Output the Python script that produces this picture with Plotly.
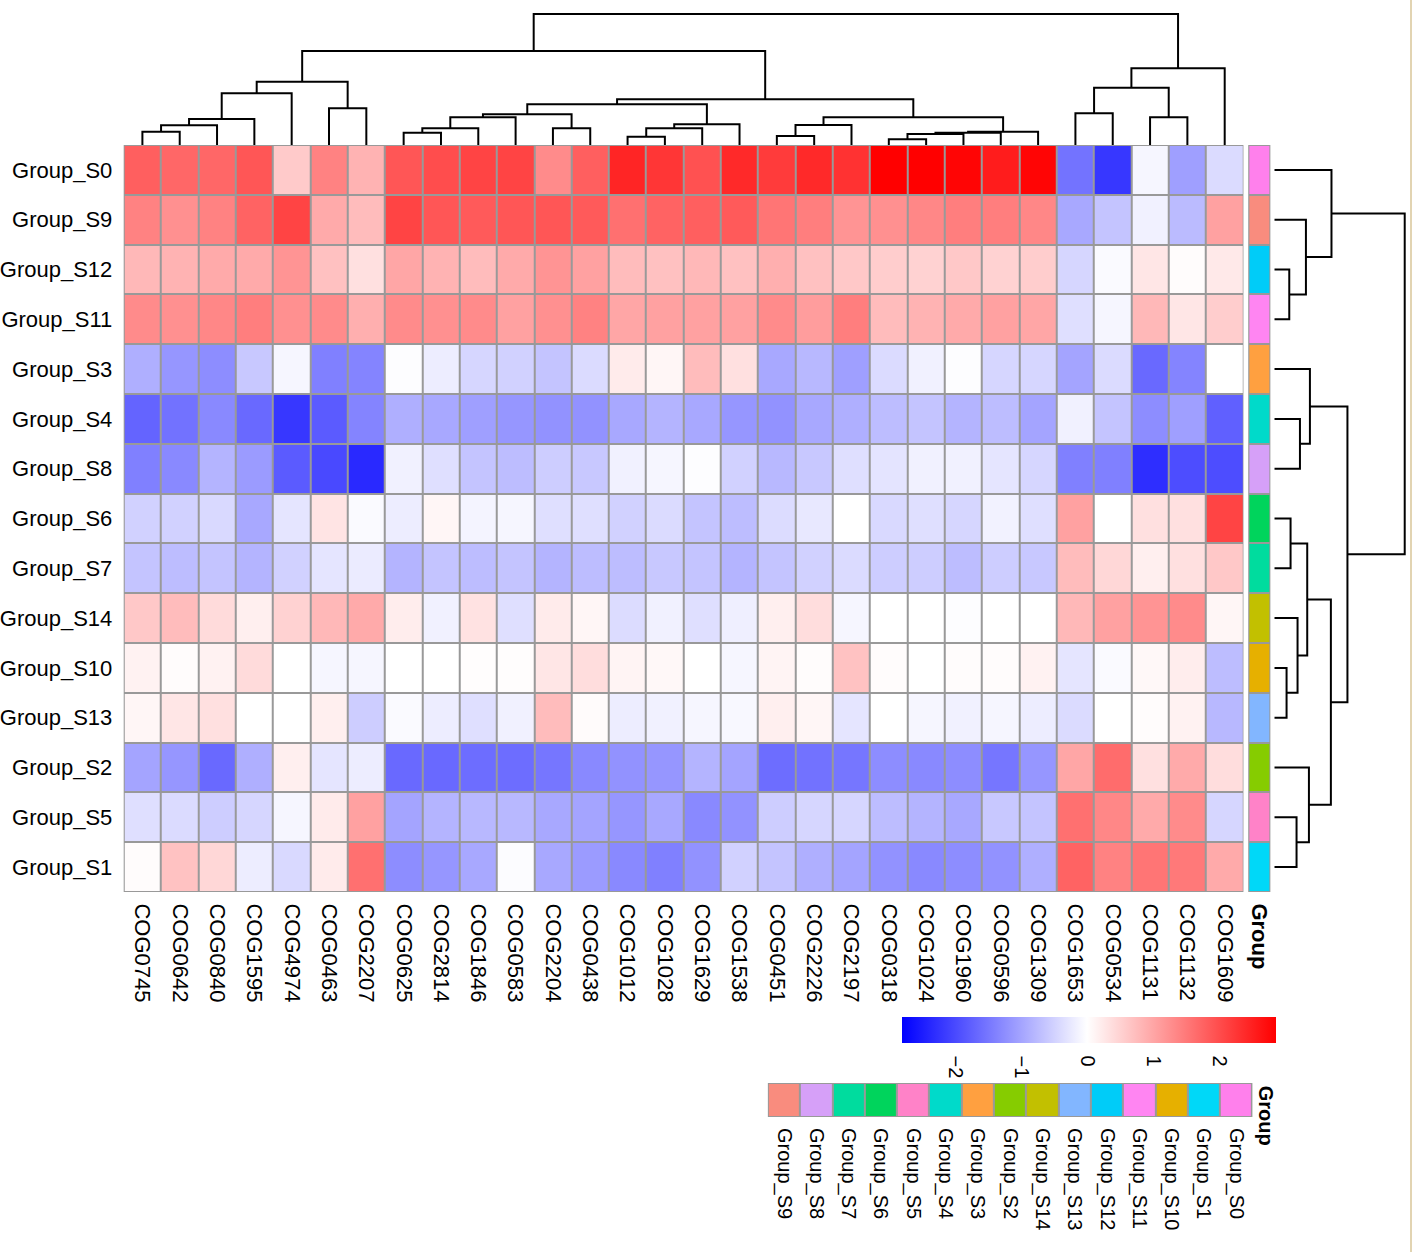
import plotly.graph_objects as go

W, H = 1417, 1252
FONT = "Liberation Sans, Arial, Helvetica, sans-serif"

# ---------------- data ----------------
cols = ["COG0745", "COG0642", "COG0840", "COG1595", "COG4974", "COG0463", "COG2207",
        "COG0625", "COG2814", "COG1846", "COG0583", "COG2204", "COG0438", "COG1012",
        "COG1028", "COG1629", "COG1538", "COG0451", "COG2226", "COG2197", "COG0318",
        "COG1024", "COG1960", "COG0596", "COG1309", "COG1653", "COG0534", "COG1131",
        "COG1132", "COG1609"]
rows = ["Group_S0", "Group_S9", "Group_S12", "Group_S11", "Group_S3", "Group_S4", "Group_S8",
        "Group_S6", "Group_S7", "Group_S14", "Group_S10", "Group_S13", "Group_S2", "Group_S5",
        "Group_S1"]

v_S0 = [1.8, 1.7, 1.7, 1.9, 0.6, 1.4, 0.85, 1.9, 2.0, 2.1, 2.1, 1.3, 1.8, 2.45, 2.25,
        1.95, 2.4, 2.2, 2.4, 2.3, 2.86, 2.86, 2.8, 2.55, 2.8, -1.54, -2.2, -0.1, -1.05, -0.4]
v_S9 = [1.4, 1.25, 1.4, 1.75, 2.1, 0.95, 0.75, 2.1, 1.9, 1.85, 1.9, 1.9, 1.85, 1.6, 1.75,
        1.8, 1.85, 1.55, 1.45, 1.2, 1.25, 1.35, 1.45, 1.45, 1.35, -0.95, -0.65, -0.15, -0.75, 1.05]
v_S12 = [0.8, 0.85, 0.95, 0.95, 1.2, 0.7, 0.35, 1.0, 0.85, 0.75, 0.95, 1.2, 1.05, 0.75, 0.7,
         0.8, 0.7, 0.9, 0.7, 0.62, 0.56, 0.5, 0.62, 0.5, 0.56, -0.45, -0.05, 0.28, 0.03, 0.25]
v_S11 = [1.3, 1.25, 1.35, 1.45, 1.25, 1.3, 0.9, 1.3, 1.25, 1.3, 1.05, 1.25, 1.4, 1.0, 1.05,
         1.05, 1.05, 1.3, 1.1, 1.45, 0.75, 0.85, 0.95, 1.05, 1.0, -0.35, -0.1, 0.8, 0.28, 0.56]
v_S3 = [-0.88, -1.15, -1.25, -0.6, -0.1, -1.4, -1.35, -0.02, -0.2, -0.45, -0.5, -0.65, -0.4, 0.22, 0.1,
        0.75, 0.35, -0.95, -0.78, -1.05, -0.4, -0.15, -0.02, -0.45, -0.45, -1.0, -0.4, -1.65, -1.35, 0.0]
v_S4 = [-1.7, -1.55, -1.3, -1.65, -2.2, -1.8, -1.35, -0.88, -0.95, -1.05, -1.15, -1.2, -1.2, -0.95, -0.82,
        -0.95, -1.15, -1.2, -0.95, -0.88, -0.72, -0.65, -0.82, -0.72, -1.0, -0.15, -0.65, -1.25, -1.05, -1.75]
v_S8 = [-1.4, -1.3, -0.82, -1.1, -1.8, -2.0, -2.35, -0.15, -0.35, -0.65, -0.72, -0.55, -0.6, -0.15, -0.1,
        -0.02, -0.5, -0.78, -0.6, -0.35, -0.3, -0.15, -0.15, -0.28, -0.45, -1.4, -1.4, -2.3, -1.95, -1.95]
v_S6 = [-0.5, -0.5, -0.42, -0.95, -0.28, 0.3, -0.05, -0.2, 0.1, -0.12, -0.1, -0.35, -0.35, -0.5, -0.4,
        -0.65, -0.72, -0.38, -0.25, 0.0, -0.42, -0.35, -0.45, -0.14, -0.35, 1.05, 0.0, 0.35, 0.35, 2.1]
v_S7 = [-0.65, -0.72, -0.65, -0.82, -0.5, -0.28, -0.22, -0.82, -0.65, -0.72, -0.65, -0.82, -0.72, -0.72, -0.6,
        -0.65, -0.82, -0.65, -0.5, -0.4, -0.55, -0.55, -0.72, -0.55, -0.6, 0.75, 0.45, 0.18, 0.35, 0.62]
v_S14 = [0.62, 0.75, 0.4, 0.18, 0.5, 0.8, 0.95, 0.2, -0.15, 0.32, -0.35, 0.22, 0.1, -0.38, -0.15,
         -0.35, -0.18, 0.18, 0.38, -0.1, 0.0, 0.0, -0.02, 0.0, 0.0, 0.8, 1.05, 1.2, 1.3, 0.1]
v_S10 = [0.15, 0.03, 0.15, 0.4, 0.0, -0.1, -0.1, 0.0, 0.0, 0.02, 0.02, 0.28, 0.38, 0.12, 0.08,
         0.0, -0.1, 0.12, 0.03, 0.68, 0.03, 0.0, 0.03, 0.03, 0.15, -0.28, -0.05, 0.08, 0.2, -0.72]
v_S13 = [0.1, 0.28, 0.35, 0.0, 0.0, 0.18, -0.55, -0.05, -0.2, -0.35, -0.15, 0.75, 0.05, -0.2, -0.15,
         -0.1, -0.08, 0.18, 0.1, -0.28, 0.0, -0.1, -0.15, -0.1, -0.2, -0.4, 0.0, 0.03, 0.15, -0.78]
v_S2 = [-1.0, -1.15, -1.65, -0.88, 0.18, -0.28, -0.2, -1.65, -1.65, -1.6, -1.6, -1.5, -1.3, -1.2, -1.15,
        -0.82, -1.0, -1.6, -1.55, -1.5, -1.25, -1.3, -1.25, -1.5, -1.15, 1.0, 1.65, 0.35, 0.95, 0.38]
v_S5 = [-0.35, -0.4, -0.55, -0.45, -0.1, 0.22, 1.05, -1.0, -0.82, -0.78, -0.78, -0.95, -1.0, -1.15, -0.95,
        -1.3, -1.2, -0.55, -0.45, -0.45, -0.72, -0.82, -0.95, -0.6, -0.65, 1.6, 1.35, 0.95, 1.3, -0.45]
v_S1 = [0.03, 0.68, 0.45, -0.2, -0.42, 0.22, 1.6, -1.25, -1.15, -0.95, -0.03, -0.95, -1.1, -1.3, -1.4,
        -1.2, -0.5, -0.65, -0.88, -1.0, -1.2, -1.3, -1.25, -1.2, -0.88, 1.75, 1.4, 1.55, 1.5, 0.95]

values = [v_S0, v_S9, v_S12, v_S11, v_S3, v_S4, v_S8, v_S6, v_S7, v_S14, v_S10, v_S13, v_S2, v_S5, v_S1]

zmin, zmax = -2.8, 2.86
cbar_ticks = [-2, -1, 0, 1, 2]

group_colors = {
    "Group_S0": "#FF80EC", "Group_S1": "#00D8F8", "Group_S10": "#E6B000", "Group_S11": "#FF85F2",
    "Group_S12": "#00CCF8", "Group_S13": "#82B6FF", "Group_S14": "#C2C000", "Group_S2": "#86CC00",
    "Group_S3": "#FFA040", "Group_S4": "#00DACA", "Group_S5": "#FF82C8", "Group_S6": "#00D45C",
    "Group_S7": "#00DC9E", "Group_S8": "#D6A0F8", "Group_S9": "#F98C7E",
}
legend_order = ["Group_S9", "Group_S8", "Group_S7", "Group_S6", "Group_S5", "Group_S4", "Group_S3",
                "Group_S2", "Group_S14", "Group_S13", "Group_S12", "Group_S11", "Group_S10",
                "Group_S1", "Group_S0"]

# hierarchical merges: (child_a, child_b, height); leaves are 0..n-1, new nodes n, n+1, ...
col_merges = [
    (0, 1, 13.3), (30, 2, 19.7), (31, 3, 26.0), (32, 4, 51.7), (5, 6, 36.7), (33, 34, 63.3),
    (7, 8, 12.3), (36, 9, 16.7), (37, 10, 27.7), (11, 12, 16.7), (38, 39, 30.7),
    (13, 14, 8.3), (41, 15, 16.7), (42, 16, 20.7), (40, 43, 40.7),
    (17, 18, 9.0), (45, 19, 20.0), (20, 21, 5.7), (47, 22, 11.0), (48, 23, 12.3), (49, 24, 13.3),
    (46, 50, 27.7), (44, 51, 45.7), (35, 52, 94.0),
    (25, 26, 31.7), (27, 28, 27.7), (54, 55, 57.3), (56, 29, 76.7), (53, 57, 131.0),
]
row_merges = [
    (2, 3, 15.0), (1, 15, 31.7), (0, 16, 57.3), (5, 6, 25.7), (4, 18, 35.7),
    (7, 8, 16.3), (10, 11, 12.3), (9, 21, 23.3), (20, 22, 33.0), (13, 14, 22.3),
    (12, 24, 34.7), (23, 25, 56.7), (19, 26, 73.3), (17, 27, 130.7),
]


def dendro(merges, n):
    pos = {i: float(i) for i in range(n)}
    hgt = {i: 0.0 for i in range(n)}
    p, h = [], []
    for k, (a, b, hh) in enumerate(merges):
        pa, pb = pos[a], pos[b]
        p += [pa, pa, pb, pb, None]
        h += [hgt[a], hh, hh, hgt[b], None]
        pos[n + k] = (pa + pb) / 2
        hgt[n + k] = hh
    return p, h


# ---------------- figure ----------------
def px_x(v):
    return v / W


def px_y(v):
    return 1 - v / H


GRID = "#999999"
fig = go.Figure()

cs = [[0, "rgb(0,0,255)"], [(0 - zmin) / (zmax - zmin), "rgb(255,255,255)"], [1, "rgb(255,0,0)"]]
fig.add_trace(go.Heatmap(
    z=values, x=list(range(len(cols))), y=list(range(len(rows))),
    zmin=zmin, zmax=zmax, colorscale=cs, xgap=2, ygap=2,
    xaxis="x", yaxis="y", hoverinfo="skip",
    colorbar=dict(orientation="h", lenmode="pixels", len=374, thickness=26,
                  x=px_x(1090.5), xanchor="center", y=px_y(1017), yanchor="top",
                  xpad=0, ypad=0, outlinewidth=0, tickvals=cbar_ticks,
                  tickangle=90, ticks="outside", ticklen=9, tickcolor="rgba(0,0,0,0)",
                  tickfont=dict(size=20, family=FONT, color="black")),
))


def discrete_scale(colors):
    n = len(colors)
    out = []
    for i, c in enumerate(colors):
        out.append([i / n, c])
        out.append([(i + 1) / n, c])
    return out


# row annotation column
ann_colors = [group_colors[r] for r in rows]
fig.add_trace(go.Heatmap(
    z=[[i] for i in range(len(rows))], x=[0], y=list(range(len(rows))),
    zmin=-0.5, zmax=len(rows) - 0.5, colorscale=discrete_scale(ann_colors),
    showscale=False, xgap=2, ygap=2, xaxis="x2", yaxis="y", hoverinfo="skip"))

# legend for group colours
leg_colors = [group_colors[g] for g in legend_order]
fig.add_trace(go.Heatmap(
    z=[list(range(len(legend_order)))], x=list(range(len(legend_order))), y=[0],
    zmin=-0.5, zmax=len(legend_order) - 0.5, colorscale=discrete_scale(leg_colors),
    showscale=False, xgap=2, ygap=2, xaxis="x5", yaxis="y5", hoverinfo="skip"))

# dendrograms
cx, ch = dendro(col_merges, len(cols))
fig.add_trace(go.Scatter(x=cx, y=ch, mode="lines", line=dict(color="black", width=2),
                         xaxis="x", yaxis="y3", hoverinfo="skip", showlegend=False))
ry, rh = dendro(row_merges, len(rows))
fig.add_trace(go.Scatter(x=rh, y=ry, mode="lines", line=dict(color="black", width=2),
                         xaxis="x4", yaxis="y", hoverinfo="skip", showlegend=False))

hidden = dict(showgrid=False, zeroline=False, showline=False, showticklabels=False, ticks="")
tickstyle = dict(ticks="outside", ticklen=6, tickcolor="rgba(0,0,0,0)",
                 showgrid=False, zeroline=False, showline=False)

fig.update_layout(
    width=W, height=H, margin=dict(l=0, r=0, t=0, b=0),
    paper_bgcolor="white", plot_bgcolor="white", showlegend=False,
    font=dict(family=FONT, color="black"),
    xaxis=dict(domain=[px_x(123), px_x(1245)], range=[-0.5, len(cols) - 0.5], anchor="y",
               tickvals=list(range(len(cols))), ticktext=cols, tickangle=90,
               tickfont=dict(size=22), **tickstyle),
    yaxis=dict(domain=[px_y(892), px_y(145)], range=[len(rows) - 0.5, -0.5], anchor="x",
               tickvals=list(range(len(rows))), ticktext=rows,
               tickfont=dict(size=22), **tickstyle),
    xaxis2=dict(domain=[px_x(1250), px_x(1272)], range=[-0.5, 0.5], anchor="y",
                tickvals=[0], ticktext=["<b>Group</b>"], tickangle=90,
                tickfont=dict(size=22), **tickstyle),
    yaxis3=dict(domain=[px_y(145), px_y(10)], range=[0, 135], anchor="x", **hidden),
    xaxis4=dict(domain=[px_x(1276), px_x(1412)], range=[0, 136], anchor="y", **hidden),
    xaxis5=dict(domain=[px_x(768.5), px_x(1254)], range=[-0.5, len(legend_order) - 0.5],
                anchor="y5", tickvals=list(range(len(legend_order))), ticktext=legend_order,
                tickangle=90, tickfont=dict(size=20), **tickstyle),
    yaxis5=dict(domain=[px_y(1117), px_y(1083)], range=[-0.5, 0.5], anchor="x5", **hidden),
)

fig.update_xaxes(tickson="labels")

# grey cell borders (backgrounds behind the gapped heatmaps)
for xr, yr, x1, y1 in [("x", "y", len(cols) - 0.5, len(rows) - 0.5),
                       ("x2", "y", 0.5, len(rows) - 0.5),
                       ("x5", "y5", len(legend_order) - 0.5, 0.5)]:
    y0 = -0.5
    fig.add_shape(type="rect", xref=xr, yref=yr, x0=-0.5, x1=x1, y0=y0, y1=y1,
                  fillcolor=GRID, line=dict(color=GRID, width=1.5), layer="below")

fig.add_annotation(text="<b>Group</b>", xref="paper", yref="paper", x=px_x(1268), y=px_y(1084),
                   xanchor="center", yanchor="top", textangle=90, showarrow=False,
                   font=dict(size=20, family=FONT, color="black"))

fig.add_shape(type="line", xref="paper", yref="paper", x0=px_x(1413), x1=px_x(1413), y0=0, y1=1,
              line=dict(color="rgb(226,212,178)", width=2))

fig.write_html("out.html", config={"displayModeBar": False},
               post_script="document.body.style.margin='0';document.body.style.overflow='hidden';")
